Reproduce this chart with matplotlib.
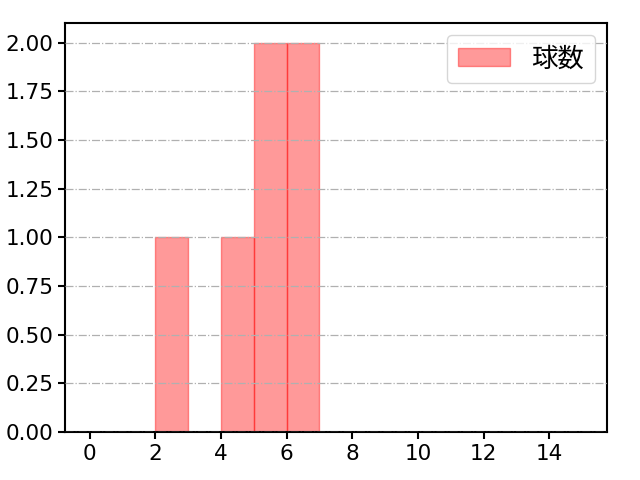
import matplotlib
matplotlib.use("Agg")
import matplotlib.pyplot as plt

plt.rcParams['font.family'] = ['DejaVu Sans', 'Noto Sans CJK JP']

bin_edges = list(range(0, 16))
pitch_values = [2, 4, 5, 5, 6, 6]
label = "球数"
y_ticks = [0, 0.25, 0.5, 0.75, 1.0, 1.25, 1.5, 1.75, 2.0]
x_ticks = [0, 2, 4, 6, 8, 10, 12, 14]

fig = plt.figure(figsize=(6.4, 4.8), dpi=100)
ax = fig.add_axes([0.1016, 0.1, 0.8464, 0.852])
ax.hist(pitch_values, bins=bin_edges, color='red', alpha=0.4, edgecolor='red', label=label)
ax.set_xticks(x_ticks)
ax.set_ylim(0, 2.1)
ax.set_yticks(y_ticks)
ax.set_yticklabels([f"{v:.2f}" for v in y_ticks])
ax.grid(axis='y', linestyle='-.', color='#b0b0b0', linewidth=0.9)
ax.set_axisbelow(False)
for s in ax.spines.values():
    s.set_linewidth(1.5)
ax.tick_params(labelsize=15.5, width=1.5, length=5)
ax.legend(loc='upper right', prop={'family': ['Noto Sans CJK JP'], 'size': 19}, borderaxespad=0.45)
fig.savefig("out.png", dpi=100)
